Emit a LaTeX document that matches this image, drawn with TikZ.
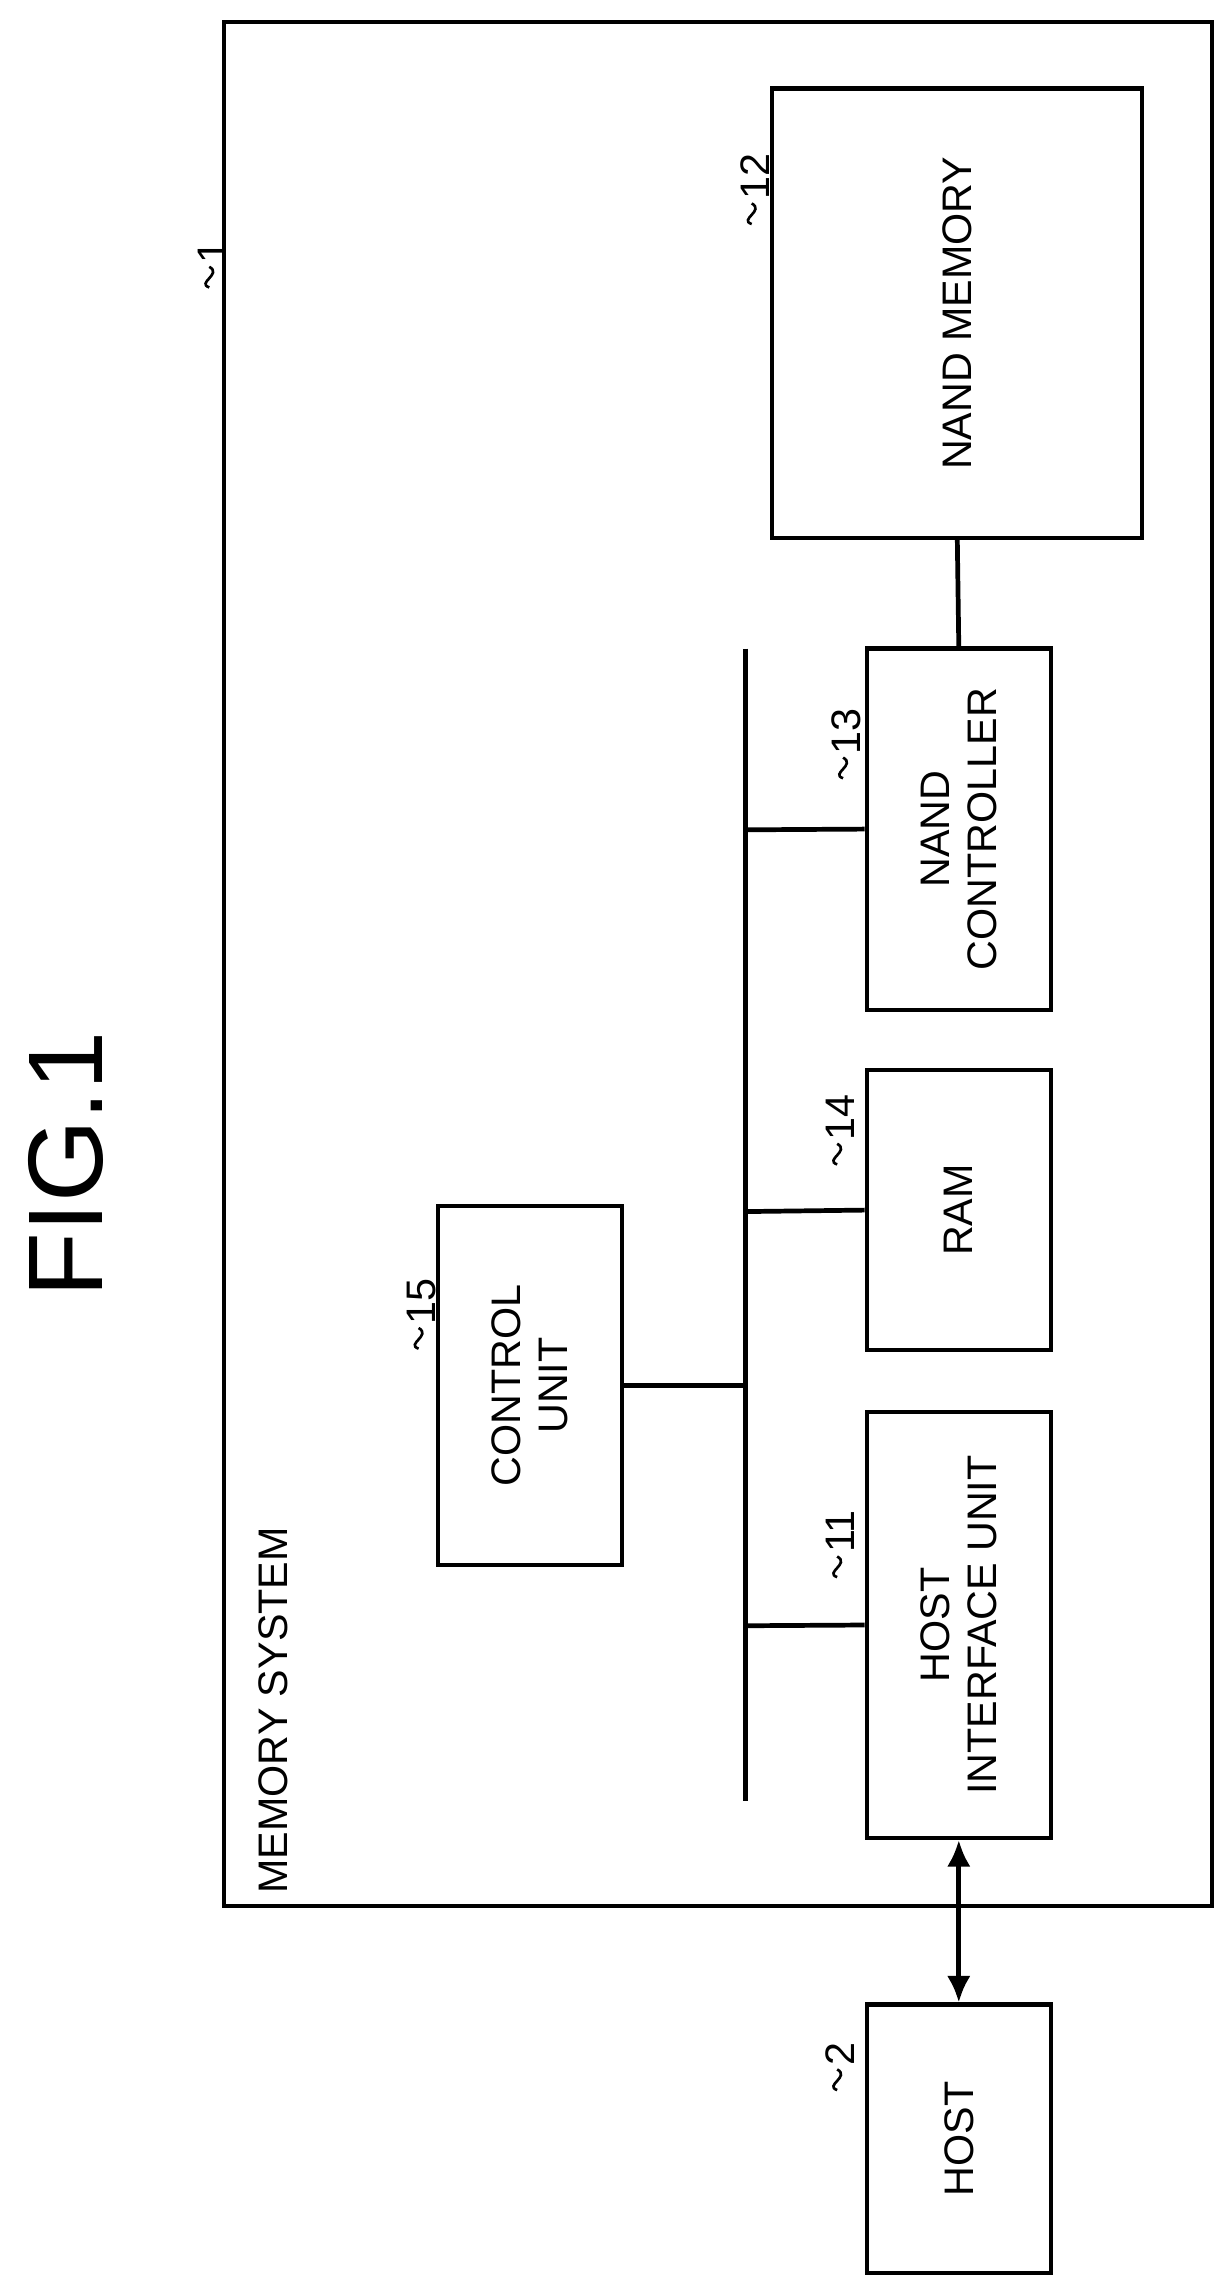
\documentclass[tikz,border=0pt]{standalone}
\usepackage{fontspec}
\setmainfont{Liberation Sans}
\usetikzlibrary{arrows.meta}
\begin{document}
\begin{tikzpicture}[x=0.5pt,y=-0.5pt,
    block/.style={draw, line width=1.4pt, rotate=90, align=center, font=\fontsize{14}{16}\selectfont, inner sep=0pt},
    wire/.style={line width=1.6pt},
    tagtext/.style={rotate=90, anchor=west, inner sep=1pt, font=\fontsize{14}{16}\selectfont}]
  \useasboundingbox (0,0) rectangle (830,1553);
  \newcommand{\reftag}[3]{%
    \draw[line width=0.9pt] (#1,#2) .. controls (#1-9,#2-3) and (#1+9,#2-9) .. (#1,#2-14);
    \node[tagtext] at (#1+2,#2-14) {#3};}
  % outer box
  \draw[line width=1.4pt] (152,15) rectangle (822,1293);
  \node[rotate=90, anchor=south west, inner sep=0pt, font=\fontsize{14}{16}\selectfont] at (196,1285) {MEMORY SYSTEM};
  \node[rotate=90, font=\fontsize{36}{40}\selectfont] (fig) at (45,790) {FIG.1};
  % blocks
  \node[block, minimum width=152.5pt, minimum height=125.5pt] (nandmem) at (649.5,212.5) {NAND MEMORY};
  \node[block, minimum width=122.5pt, minimum height=62.5pt] (nandctl) at (650.5,562.5) {NAND\\CONTROLLER};
  \node[block, minimum width=95pt, minimum height=62.5pt] (ram) at (650.5,821) {RAM};
  \node[block, minimum width=144.5pt, minimum height=62.5pt] (hostif) at (650.5,1102.5) {HOST\\INTERFACE UNIT};
  \node[block, minimum width=122pt, minimum height=62.5pt] (ctrl) at (359.5,940) {CONTROL\\UNIT};
  \node[block, minimum width=91pt, minimum height=62.5pt] (host) at (650.5,1451) {HOST};
  % bus
  \coordinate (bustop) at (506,440);
  \coordinate (busbot) at (506,1222);
  \draw[wire] (bustop) -- (busbot);
  \draw[wire] (506,563) -- (nandctl.north);
  \draw[wire] (506,822) -- (ram.north);
  \draw[wire] (506,1103) -- (hostif.north);
  \draw[wire] (ctrl.south) -- (506,940);
  \draw[wire] (nandmem.west) -- (nandctl.east);
  \draw[wire, {Latex[length=9pt,width=8pt]}-{Latex[length=9pt,width=8pt]}] (hostif.west) -- (host.east);
  % reference tags
  \reftag{142}{195}{1}
  \reftag{510}{152}{12}
  \reftag{572}{528}{13}
  \reftag{568}{790}{14}
  \reftag{568}{1070}{11}
  \reftag{284}{915}{15}
  \reftag{568}{1418}{2}
\end{tikzpicture}
\end{document}
